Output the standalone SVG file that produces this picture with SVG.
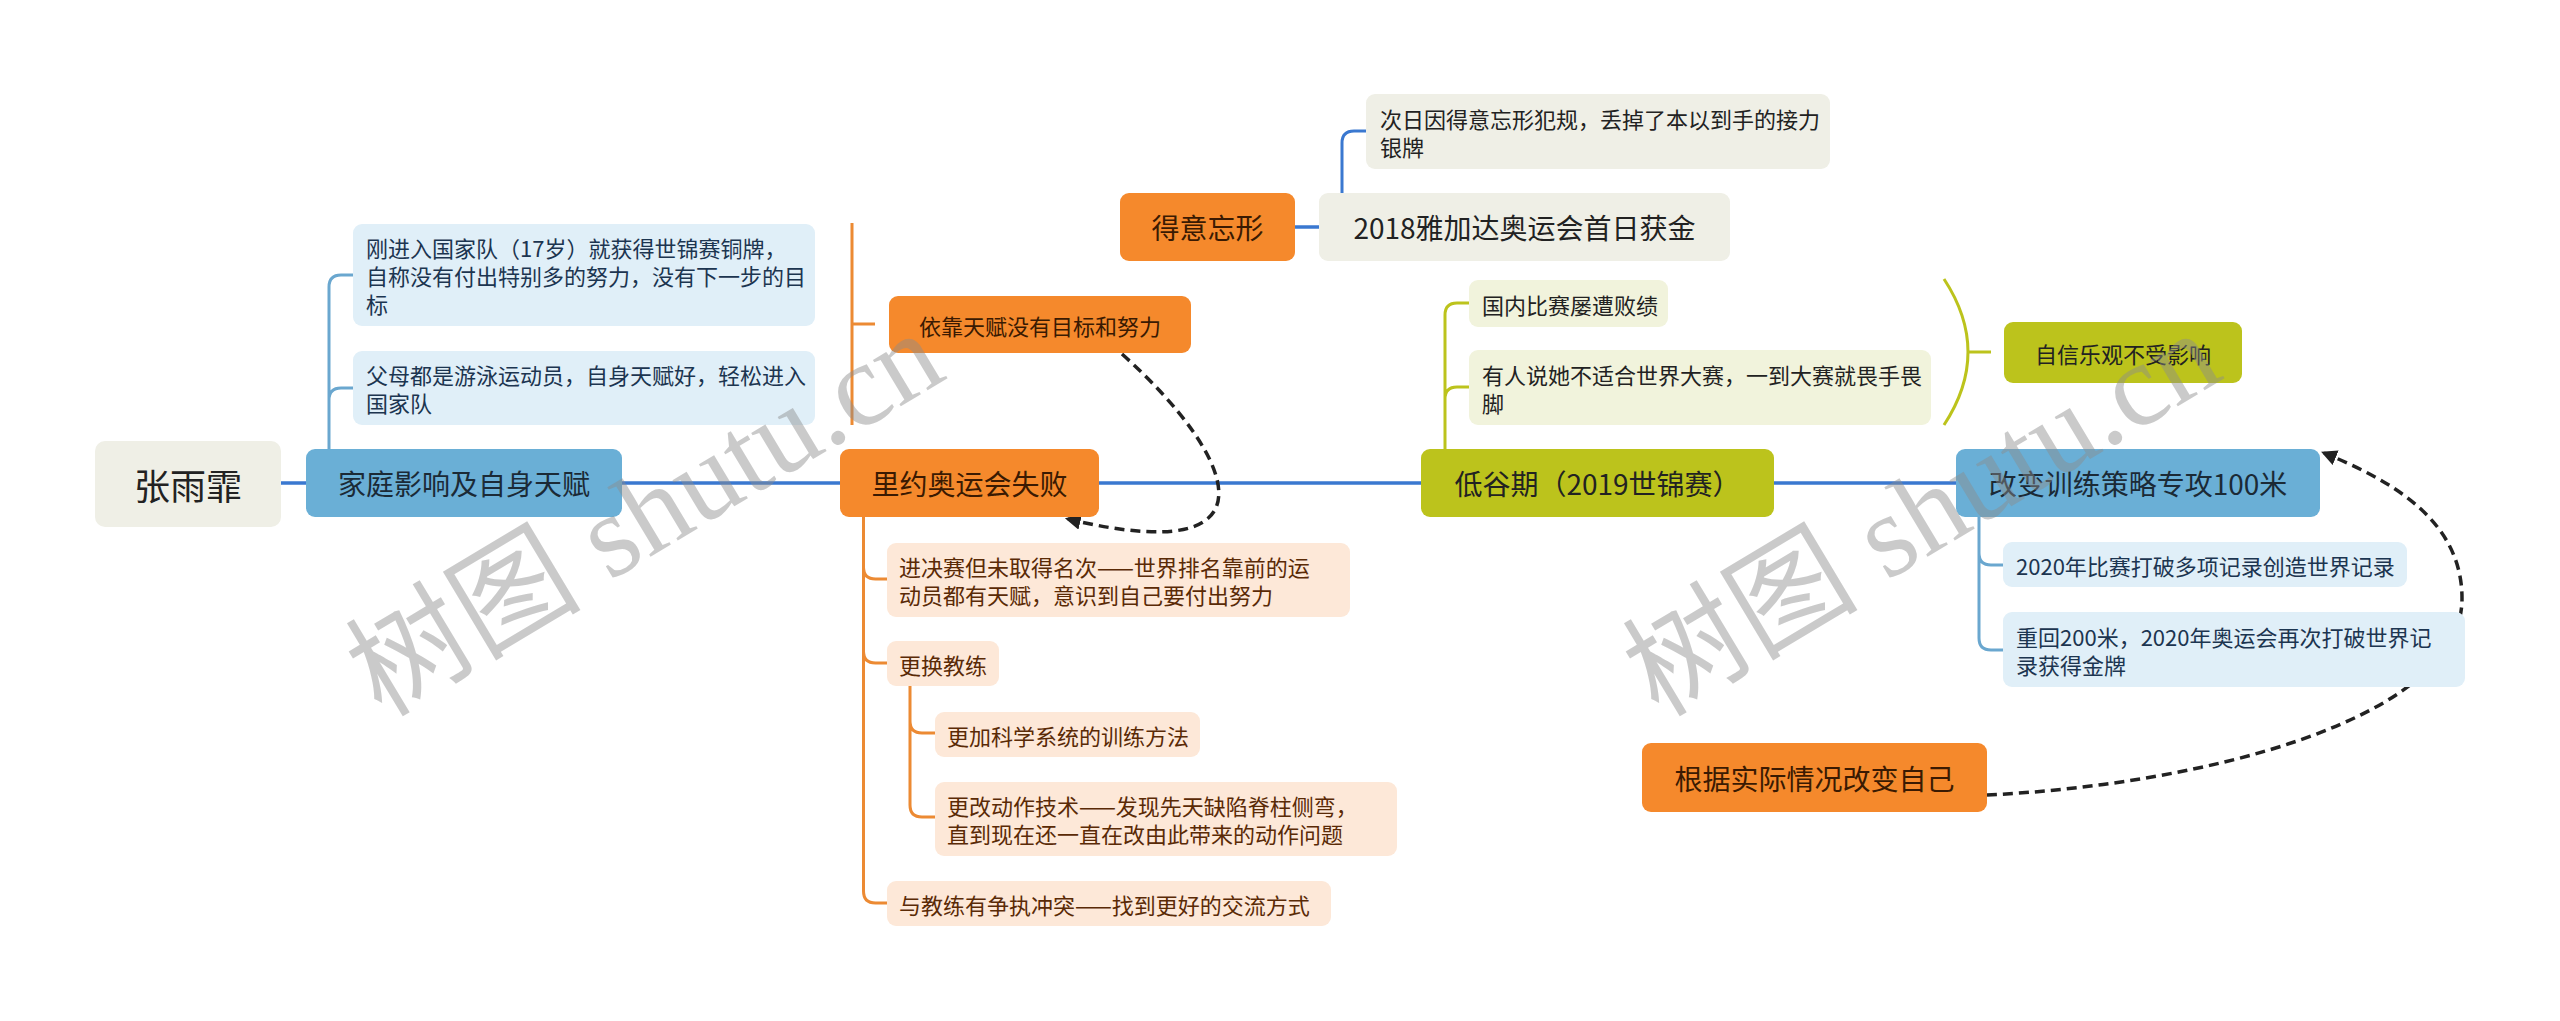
<svg xmlns="http://www.w3.org/2000/svg" width="2560" height="1021" viewBox="0 0 2560 1021">
<defs>
<style>
text{font-family:"Noto Sans CJK SC","Noto Sans",sans-serif;}
.t28{font-size:28px;text-anchor:middle;dominant-baseline:central;}
.t22c{font-size:22px;text-anchor:middle;dominant-baseline:central;}
.t22{font-size:22px;dominant-baseline:central;}
.root{fill:#efefe6;}
.blue{fill:#6aafd6;}
.org{fill:#f5892c;}
.olv{fill:#bcc31c;}
.lb{fill:#e0eff8;}
.pc{fill:#fde8d8;}
.lo{fill:#f1f3dc;}
.gy{fill:#efefe6;}
.dk{fill:#222;}
.tb{fill:#1b2a36;}
.to{fill:#3a1a02;}
.tlb{fill:#1c3550;}
.tpc{fill:#5a2a06;}
.main{stroke:#3a78d0;stroke-width:3.5;fill:none;}
.bl{stroke:#6aa7cf;stroke-width:3;fill:none;}
.or{stroke:#ec8a33;stroke-width:3;fill:none;}
.ol{stroke:#bcc31c;stroke-width:3;fill:none;}
.dash{stroke:#222;stroke-width:3.5;fill:none;stroke-dasharray:10 6;}
.wm{font-family:"Liberation Serif","Noto Sans CJK SC",serif;font-size:118px;fill:#8c8c8c;opacity:0.45;text-anchor:middle;dominant-baseline:central;}
</style>
<marker id="arr" viewBox="0 0 10 10" refX="8" refY="5" markerWidth="4.5" markerHeight="4.5" orient="auto" markerUnits="strokeWidth">
<path d="M0,0 L10,5 L0,10 z" fill="#222"/>
</marker>
</defs>
<rect width="2560" height="1021" fill="#ffffff"/>
<g id="connectors">
<path class="main" d="M281,483 H306 M622,483 H840 M1099,483 H1421 M1774,483 H1956"/>
<path class="main" d="M1295,227 H1319"/>
<path class="main" style="stroke-width:3" d="M1342,193 V143 Q1342,131 1354,131 H1366"/>
<path class="bl" d="M329,449 V287 Q329,275 341,275 H353 M329,400 Q329,388 341,388 H353"/>
<path class="or" d="M852,223 V425 M852,324 H875"/>
<path class="or" d="M863.5,517 V891 Q863.5,903 875.5,903 H887 M863.5,567 Q863.5,579 875.5,579 H887 M863.5,651 Q863.5,663 875.5,663 H887"/>
<path class="or" d="M910,686 V805 Q910,817 922,817 H935 M910,721 Q910,733 922,733 H935"/>
<path class="ol" d="M1445,449 V315 Q1445,303 1457,303 H1469 M1445,399 Q1445,387 1457,387 H1469"/>
<path class="ol" d="M1944,279 Q1992,352 1944,425 M1968,352 H1991"/>
<path class="bl" d="M1979,517 V638 Q1979,650 1991,650 H2003 M1979,553 Q1979,565 1991,565 H2003"/>
<path class="dash" marker-end="url(#arr)" d="M1122,354 C1240,460 1280,570 1068,519"/>
<path class="dash" marker-end="url(#arr)" d="M1987,795 C2200,785 2460,720 2462,600 C2463,520 2390,480 2324,453"/>
</g>
<g id="n-root"><rect class="root" x="95" y="441" width="186" height="86" rx="10"/><text class="t28 dk" x="188" y="484" style="font-size:36px">张雨霏</text></g>
<g id="n-family"><rect class="blue" x="306" y="449" width="316" height="68" rx="9"/><text class="t28 tb" x="464" y="483">家庭影响及自身天赋</text></g>
<g id="n-family-1"><rect class="lb" x="353" y="224" width="462" height="102" rx="9"/><text class="t22 tlb" x="366"><tspan x="366" y="247">刚进入国家队（17岁）就获得世锦赛铜牌，</tspan><tspan x="366" y="275">自称没有付出特别多的努力，没有下一步的目</tspan><tspan x="366" y="303">标</tspan></text></g>
<g id="n-family-2"><rect class="lb" x="353" y="351" width="462" height="74" rx="9"/><text class="t22 tlb"><tspan x="366" y="374">父母都是游泳运动员，自身天赋好，轻松进入</tspan><tspan x="366" y="402">国家队</tspan></text></g>
<g id="n-summary1"><rect class="org" x="889" y="296" width="302" height="57" rx="9"/><text class="t22c to" x="1040" y="324.5">依靠天赋没有目标和努力</text></g>
<g id="n-rio"><rect class="org" x="840" y="449" width="259" height="68" rx="9"/><text class="t28 to" x="969.5" y="483">里约奥运会失败</text></g>
<g id="n-rio-1"><rect class="pc" x="887" y="543" width="463" height="74" rx="9"/><text class="t22 tpc"><tspan x="899" y="566">进决赛但未取得名次——世界排名靠前的运</tspan><tspan x="899" y="594">动员都有天赋，意识到自己要付出努力</tspan></text></g>
<g id="n-rio-2"><rect class="pc" x="887" y="641" width="112" height="45" rx="9"/><text class="t22 tpc" x="899" y="663.5">更换教练</text></g>
<g id="n-rio-2-1"><rect class="pc" x="935" y="712" width="265" height="45" rx="9"/><text class="t22 tpc" x="947" y="734.5">更加科学系统的训练方法</text></g>
<g id="n-rio-2-2"><rect class="pc" x="935" y="782" width="462" height="74" rx="9"/><text class="t22 tpc"><tspan x="947" y="805">更改动作技术——发现先天缺陷脊柱侧弯，</tspan><tspan x="947" y="833">直到现在还一直在改由此带来的动作问题</tspan></text></g>
<g id="n-rio-3"><rect class="pc" x="887" y="881" width="444" height="45" rx="9"/><text class="t22 tpc" x="899" y="903.5">与教练有争执冲突——找到更好的交流方式</text></g>
<g id="n-proud"><rect class="org" x="1120" y="193" width="175" height="68" rx="9"/><text class="t28 to" x="1207.5" y="227">得意忘形</text></g>
<g id="n-2018"><rect class="gy" x="1319" y="193" width="411" height="68" rx="9"/><text class="t28 dk" x="1524.5" y="227">2018雅加达奥运会首日获金</text></g>
<g id="n-2018-1"><rect class="gy" x="1366" y="94" width="464" height="75" rx="9"/><text class="t22 dk"><tspan x="1380" y="117.5">次日因得意忘形犯规，丢掉了本以到手的接力</tspan><tspan x="1380" y="145.5">银牌</tspan></text></g>
<g id="n-low"><rect class="olv" x="1421" y="449" width="353" height="68" rx="9"/><text class="t28 dk" x="1597.5" y="483">低谷期（2019世锦赛）</text></g>
<g id="n-low-1"><rect class="lo" x="1469" y="280" width="199" height="47" rx="9"/><text class="t22 dk" x="1482" y="303.5">国内比赛屡遭败绩</text></g>
<g id="n-low-2"><rect class="lo" x="1469" y="350" width="462" height="75" rx="9"/><text class="t22 dk"><tspan x="1482" y="373.5">有人说她不适合世界大赛，一到大赛就畏手畏</tspan><tspan x="1482" y="401.5">脚</tspan></text></g>
<g id="n-summary2"><rect class="olv" x="2004" y="322" width="238" height="61" rx="9"/><text class="t22c dk" x="2123" y="352.5">自信乐观不受影响</text></g>
<g id="n-change"><rect class="blue" x="1956" y="449" width="364" height="68" rx="9"/><text class="t28 tb" x="2138" y="483">改变训练策略专攻100米</text></g>
<g id="n-change-1"><rect class="lb" x="2003" y="542" width="404" height="45" rx="9"/><text class="t22 tlb" x="2016" y="564.5">2020年比赛打破多项记录创造世界记录</text></g>
<g id="n-change-2"><rect class="lb" x="2003" y="612" width="462" height="75" rx="9"/><text class="t22 tlb"><tspan x="2016" y="635.5">重回200米，2020年奥运会再次打破世界记</tspan><tspan x="2016" y="663.5">录获得金牌</tspan></text></g>
<g id="n-adapt"><rect class="org" x="1642" y="743" width="345" height="69" rx="9"/><text class="t28 to" x="1814.5" y="777.5">根据实际情况改变自己</text></g>
<g id="watermark">
<text class="wm" transform="translate(645,514) rotate(-31)">树图 shutu.cn</text>
<text class="wm" transform="translate(1922,514) rotate(-31)">树图 shutu.cn</text>
</g>
</svg>
